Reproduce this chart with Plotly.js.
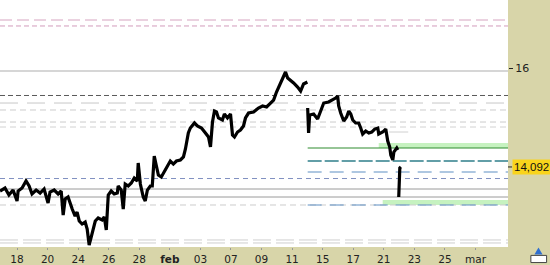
<!DOCTYPE html>
<html><head><meta charset="utf-8">
<script src="https://cdn.plot.ly/plotly-3.0.1.min.js"></script>
<style>html,body{margin:0;padding:0;background:#d8d5a9;}#chart{width:550px;height:265px;}</style>
</head><body><div id="chart"></div>
<script>
// trading-day index (0 = 18 jan) and price; null = gap between sessions
const dayIndex = [-1.115,-0.79,-0.53,-0.26,0,0.07,0.33,0.59,0.79,0.98,1.25,1.51,1.77,2.03,2.16,2.43,2.69,2.89,3.02,3.15,3.34,3.48,3.61,3.80,3.93,4.07,4.26,4.46,4.59,4.72,4.92,5.12,5.31,5.57,5.71,5.84,5.97,6.16,6.36,6.56,6.62,6.82,6.95,7.08,7.28,7.48,7.67,7.87,7.93,8.07,8.26,8.39,8.53,8.72,8.85,8.98,9.12,9.25,9.44,9.64,9.84,10.03,10.23,10.43,10.69,10.89,11.02,11.21,11.34,11.61,11.80,12.07,12.33,12.53,12.66,12.79,12.92,13.05,13.18,13.44,13.57,13.77,13.97,14.10,14.23,14.43,14.62,14.82,14.95,15.15,15.48,15.80,16.07,16.33,16.59,16.79,16.98,17.18,17.38,17.57,17.71,17.90,18.10,18.36,18.56,18.75,19.00,
  19.005,
  19.02,19.08,19.15,19.41,19.67,19.87,20.07,20.39,20.66,20.85,20.98,21.05,21.18,21.38,21.57,21.71,21.84,21.97,22.16,22.36,22.49,22.62,22.82,23.02,23.21,23.41,23.61,23.67,23.93,24.13,24.26,24.39,24.46,24.59,24.66,24.85,24.92,
  24.95,
  24.98,25.05,25.12];
const price = [13.626,13.684,13.548,13.645,13.432,13.626,13.684,13.820,13.723,13.568,13.645,13.587,13.665,13.393,13.606,13.645,13.568,13.626,13.161,13.471,13.510,13.374,13.277,13.141,13.219,13.045,12.986,13.025,12.889,12.579,12.793,13.045,13.103,13.064,13.122,12.870,13.548,13.626,13.568,13.587,13.723,13.645,13.277,13.762,13.723,13.781,13.878,13.820,14.169,13.762,13.510,13.432,13.645,13.723,13.723,14.304,14.110,13.936,13.897,13.994,14.091,14.207,14.149,14.207,14.227,14.285,14.440,14.750,14.847,14.944,14.886,14.847,14.750,14.672,14.479,14.963,15.176,15.157,15.041,15.002,15.118,15.041,15.118,14.711,14.672,14.769,14.808,14.886,15.041,15.137,15.157,15.234,15.273,15.254,15.331,15.389,15.544,15.680,15.777,15.932,15.816,15.777,15.719,15.641,15.564,15.700,15.738,
  null,
  15.234,14.750,15.099,15.118,15.021,15.157,15.331,15.351,15.389,15.428,15.467,15.273,15.137,14.983,15.060,15.176,15.118,15.002,14.944,14.944,14.847,14.731,14.789,14.750,14.769,14.827,14.847,14.731,14.769,14.827,14.595,14.479,14.324,14.227,14.382,14.459,14.421,
  null,
  13.510,14.072,14.092];

// x-axis labels (every second trading day)
const tickDays = [0,2,4,6,8,10,12,14,16,18,20,22,24,26,28,30];
const tickLabels = ['18','20','24','26','28','<b>feb</b>','03','07','09','11','15','17','21','23','25','mar'];
const priceTicks = [16];
const priceTickLabels = ['16'];

// horizontal levels: price and first day they are drawn from
const levelPrice = [16.94,16.824,15.952,15.477,15.331,15.196,14.963,14.866,14.459,14.207,13.994,13.868,13.665,13.51,13.355,13.355,12.677,12.619];
const levelFrom  = [-1.115,-1.115,-1.115,-1.115,-1.115,-1.115,-1.115,-1.115,19.02,19.02,19.02,-1.115,-1.115,-1.115,-1.115,19.02,-1.115,-1.115];
const shortLevel = {price:14.769, from:24.33, to:25.6};
// zones (low, high, from day)
const zoneLow  = [14.459,13.355];
const zoneHigh = [14.556,13.452];
const zoneFrom = [23.67,23.93];
const lastPrice = 14.092;
const lastLabel = '14,092';

const xMin = -1.115, xMax = 32.13, yMin = 12.541, yMax = 17.3275;

const levelStyle = [
  {c:'#d6a4c0',d:'12px,5px',w:1},
  {c:'#d29bbb',d:'5px,3px',w:1},
  {c:'#c9c9c9',d:'solid',w:1.5},
  {c:'#5a5a5a',d:'5px,3px',w:1},
  {c:'#c8c8c8',d:'18px,9px',w:1},
  {c:'#cccccc',d:'6px,4px',w:1},
  {c:'#cccccc',d:'6px,4px',w:1},
  {c:'#d2d2d2',d:'6px,4px',w:1},
  {c:'#2e8b2e',d:'solid',w:1.2},
  {c:'#2f7f8a',d:'14px,3px',w:1.5},
  {c:'#5f8fc4',d:'14px,8px',w:1.2},
  {c:'#7f90c0',d:'5px,4px',w:1},
  {c:'#9a9a9a',d:'solid',w:1},
  {c:'#9a9a9a',d:'solid',w:1},
  {c:'#cccccc',d:'6px,4px',w:1},
  {c:'#5f8fc4',d:'14px,8px',w:1.2},
  {c:'#cfcfcf',d:'18px,5px',w:1},
  {c:'#cfcfcf',d:'18px,5px',w:1}
];

const shapes = [];
zoneLow.forEach((lo,i)=>{
  shapes.push({type:'rect',xref:'x',yref:'y',x0:zoneFrom[i],x1:xMax,y0:lo,y1:zoneHigh[i],fillcolor:'#c6f2c0',line:{width:0},layer:'below'});
});
levelPrice.forEach((p,i)=>{
  const s = levelStyle[i];
  shapes.push({type:'line',xref:'x',yref:'y',x0:levelFrom[i],x1:xMax,y0:p,y1:p,layer:'below',line:{color:s.c,width:s.w,dash:s.d}});
});
shapes.push({type:'line',xref:'x',yref:'y',x0:shortLevel.from,x1:shortLevel.to,y0:shortLevel.price,y1:shortLevel.price,layer:'below',line:{color:'#d0d0d0',width:1}});
// tick mark for last price
shapes.push({type:'line',xref:'paper',yref:'y',x0:1,x1:1.008,y0:lastPrice,y1:lastPrice,line:{color:'#222',width:1}});
// small icon bottom right
shapes.push({type:'rect',xref:'paper',yref:'paper',x0:1.045,x1:1.076,y0:-0.063,y1:-0.034,fillcolor:'#ffffff',line:{color:'#444',width:1}});
shapes.push({type:'path',xref:'paper',yref:'paper',path:'M 1.052 -0.030 L 1.060 -0.002 L 1.068 -0.030 Z',fillcolor:'#2f6fd0',line:{width:0}});

const trace = {x:dayIndex,y:price,type:'scatter',mode:'lines',connectgaps:false,
  line:{color:'#000000',width:3.2},hoverinfo:'skip'};

const layout = {
  width:550,height:265,
  margin:{l:0,r:42,t:0,b:18,pad:0},
  paper_bgcolor:'#d8d5a9',plot_bgcolor:'#ffffff',
  showlegend:false,
  font:{family:'DejaVu Sans, sans-serif',size:10.5,color:'#222'},
  xaxis:{range:[xMin,xMax],tickvals:tickDays,ticktext:tickLabels,showgrid:false,zeroline:false,
    ticks:'outside',ticklen:2,tickcolor:'#999',showline:false,fixedrange:true,
    tickfont:{family:'DejaVu Sans, sans-serif',size:10.5,color:'#222'}},
  yaxis:{range:[yMin,yMax],side:'right',tickvals:priceTicks,ticktext:priceTickLabels,showgrid:false,zeroline:false,
    ticks:'outside',ticklen:4,tickcolor:'#222',showline:false,fixedrange:true,
    tickfont:{family:'DejaVu Sans, sans-serif',size:11,color:'#222'}},
  shapes:shapes,
  annotations:[{xref:'paper',yref:'y',x:1,y:lastPrice,xanchor:'left',yanchor:'middle',xshift:4,
    text:lastLabel,showarrow:false,bgcolor:'#f9d41c',borderpad:1,
    font:{family:'Liberation Sans, Arial, sans-serif',size:11.5,color:'#111'}}]
};
Plotly.newPlot('chart',[trace],layout,{displayModeBar:false,staticPlot:true});
</script></body></html>
